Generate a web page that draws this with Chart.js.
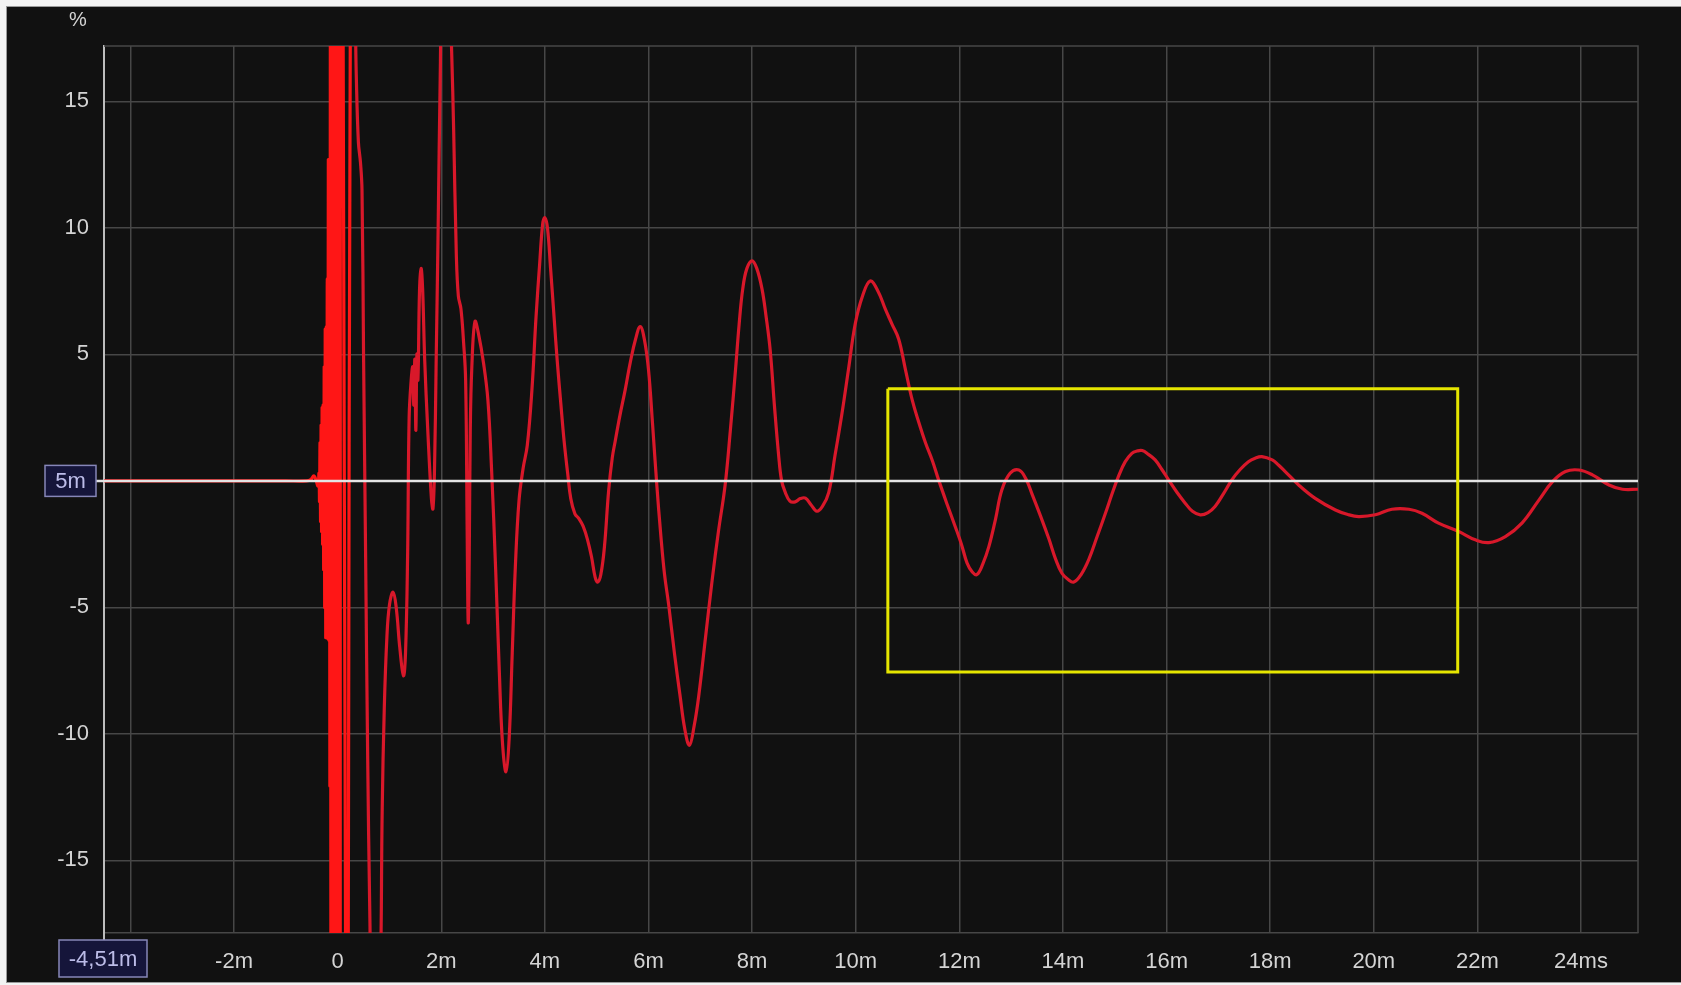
<!DOCTYPE html>
<html>
<head>
<meta charset="utf-8">
<title>Impulse response</title>
<script src="https://cdn.jsdelivr.net/npm/chart.js@4.4.1/dist/chart.umd.min.js"></script>
<style>
  html, body { margin: 0; padding: 0; background: #f3f3f3; }
  #wrap { width: 1681px; height: 985px; }
  canvas { display: block; }
</style>
</head>
<body>
<div id="wrap"><canvas id="ir" width="1681" height="985"></canvas></div>
<script>
// Time axis (ms) and measured response level (%)
const timeMs = [
  -4.51, -1.0, -0.6, -0.52, -0.46, -0.42, -0.38, -0.36,
  -0.35, -0.34, -0.33, -0.32, -0.31, -0.30, -0.29, -0.28, -0.27, -0.26, -0.25, -0.24,
  -0.23, -0.22, -0.21, -0.20, -0.19, -0.18, -0.17, -0.16, -0.15, -0.14, -0.13, -0.12,
  -0.11, -0.10, -0.09, -0.08, -0.07, -0.06, -0.05, -0.04, -0.03, -0.02, -0.01, 0.00,
  0.01, 0.02, 0.03, 0.04, 0.05, 0.06, 0.10, 0.16, 0.20, 0.25, 0.32, 0.36, 0.40, 0.44,
  0.47, 0.50, 0.54, 0.58, 0.62, 0.66, 0.74, 0.82, 0.86, 0.90, 0.95, 1.00, 1.07, 1.13,
  1.20, 1.27, 1.31, 1.35, 1.38, 1.42, 1.45, 1.47, 1.49, 1.51, 1.53, 1.55, 1.58, 1.61,
  1.64, 1.68, 1.74, 1.81, 1.84, 1.87, 1.90, 1.94, 1.98, 2.02, 2.12, 2.20, 2.24, 2.29,
  2.33, 2.38, 2.43, 2.47, 2.50, 2.52, 2.54, 2.56, 2.59, 2.65, 2.72, 2.82, 2.90, 2.97,
  3.05, 3.12, 3.18, 3.25, 3.31, 3.37, 3.43, 3.50, 3.58, 3.66, 3.75, 3.83, 3.90, 3.96,
  4.00, 4.05, 4.11, 4.18, 4.24, 4.31, 4.37, 4.44, 4.50, 4.58, 4.66, 4.74, 4.82, 4.90,
  4.97, 5.02, 5.08, 5.15, 5.23, 5.30, 5.36, 5.45, 5.55, 5.65, 5.75, 5.84, 5.92, 6.00,
  6.08, 6.16, 6.24, 6.31, 6.39, 6.50, 6.61, 6.70, 6.79, 6.88, 6.97, 7.10, 7.23, 7.35,
  7.48, 7.58, 7.68, 7.75, 7.82, 7.90, 8.00, 8.09, 8.19, 8.27, 8.35, 8.43, 8.51, 8.57,
  8.64, 8.73, 8.83, 8.93, 9.03, 9.14, 9.25, 9.36, 9.48, 9.60, 9.73, 9.86, 9.99, 10.13,
  10.28, 10.43, 10.57, 10.70, 10.83, 10.96, 11.09, 11.22, 11.35, 11.48, 11.60, 11.76,
  11.92, 12.04, 12.15, 12.25, 12.34, 12.45, 12.57, 12.70, 12.82, 12.98, 13.15, 13.28,
  13.40, 13.57, 13.73, 13.86, 13.98, 14.10, 14.21, 14.35, 14.50, 14.66, 14.82, 14.95,
  15.07, 15.20, 15.33, 15.43, 15.53, 15.65, 15.78, 15.91, 16.04, 16.20, 16.36, 16.50,
  16.65, 16.80, 16.94, 17.10, 17.26, 17.42, 17.58, 17.71, 17.84, 18.04, 18.16, 18.29,
  18.55, 18.87, 19.26, 19.50, 19.71, 20.03, 20.35, 20.68, 20.93, 21.25, 21.64, 21.96,
  22.22, 22.54, 22.86, 23.19, 23.45, 23.70, 23.96, 24.22, 24.54, 24.80, 25.10
];
const levelPct = [
  0, 0, 0, 0.05, 0.2, 0.05, -0.2, 0.3,
  -0.8, 1.5, -1.6, 2.2, -2.0, 2.9, -2.5, 3.0, -3.5, 4.5, -5.0, 6.0,
  -6.2, 6.1, -6.2, 8.0, -6.2, 12.7, -6.3, 12.6, -12, 21, -21, 21,
  -21, 21, -21, 21, -21, 21, -21, 21, -21, 21, -21, 21,
  -21, 21, -21, 21, -21, 22, 22, -24, -24, 22, 20, 16, 13.4, 12.6,
  11.5, 5, -3, -11, -17, -21, -23, -20, -13, -9, -6.2, -4.9, -4.4, -5.0,
  -6.6, -7.7, -6.8, -3, 2.5, 4.0, 4.5, 3.0, 4.8, 2.0, 5.0, 4.0, 7.5, 8.4,
  7.6, 4.8, 2.0, -0.7, -1.1, 0.5, 4.5, 10, 16, 20, 22, 17, 13.8, 9.0,
  7.3, 6.8, 5.5, 4.0, -2, -5.6, -3, 2, 4.5, 6.3, 5.8, 4.6, 3.2, 0.5,
  -3.5, -7.5, -10.3, -11.5, -10.2, -6.8, -3.4, -0.8, 0.5, 1.4, 3.6, 6.5, 8.6, 10.2,
  10.4, 10.0, 8.4, 6.4, 4.7, 3.0, 1.6, 0.3, -0.7, -1.3, -1.5, -1.8, -2.3, -3.0,
  -3.8, -4.0, -3.7, -2.6, -0.4, 0.9, 1.6, 2.6, 3.6, 4.7, 5.6, 6.1, 5.6, 4.4,
  2.2, -0.15, -2.2, -3.7, -4.9, -6.8, -8.5, -9.8, -10.45, -9.7, -8.5, -6.2, -3.9, -2.0,
  -0.15, 2.0, 4.4, 6.2, 7.6, 8.4, 8.7, 8.4, 7.6, 6.5, 5.15, 3.0, 1.06, 0.0,
  -0.45, -0.8, -0.83, -0.7, -0.68, -0.95, -1.2, -1.0, -0.45, 1.0, 2.6, 4.4, 6.2, 7.3,
  7.9, 7.5, 6.8, 6.2, 5.6, 4.4, 3.2, 2.3, 1.49, 0.8, 0.04, -0.9,
  -1.8, -2.5, -3.25, -3.6, -3.7, -3.3, -2.6, -1.5, -0.36, 0.3, 0.43, 0.1,
  -0.5, -1.4, -2.3, -3.1, -3.65, -3.9, -4.0, -3.7, -3.1, -2.2, -1.28, -0.5,
  0.17, 0.75, 1.09, 1.18, 1.2, 1.05, 0.83, 0.45, 0.04, -0.45, -0.88, -1.2,
  -1.34, -1.25, -1.0, -0.5, 0.04, 0.45, 0.76, 0.9, 0.96, 0.83, 0.63, 0.37,
  -0.16, -0.69, -1.15, -1.33, -1.41, -1.34, -1.12, -1.12, -1.28, -1.67, -2.0, -2.33,
  -2.44, -2.2, -1.67, -0.75, -0.03, 0.37, 0.43, 0.24, -0.16, -0.33, -0.33
];

// Selection window (ms and %)
const windowMs = [10.62, 21.62];
const windowPct = [-7.55, 3.64];

// Axis ranges and tick labels
const xRange = [-4.51, 25.1];
const yRange = [-17.87, 17.19];
const xTickValues = [-4, -2, 0, 2, 4, 6, 8, 10, 12, 14, 16, 18, 20, 22, 24];
const xTickLabels = ['', '-2m', '0', '2m', '4m', '6m', '8m', '10m', '12m', '14m', '16m', '18m', '20m', '22m', '24ms'];
const yTickValues = [-15, -10, -5, 0, 5, 10, 15];
const yTickLabels = ['-15', '-10', '-5', '', '5', '10', '15'];
const yUnit = '%';
const yCursorLabel = '5m';

const FONT = "'Liberation Sans', Arial, sans-serif";
const GRID = '#474747';
const TEXT = '#d4d4d4';

function tagBox(ctx, text, cx, cy, w, h) {
  ctx.save();
  ctx.fillStyle = '#15153a';
  ctx.fillRect(cx - w / 2, cy - h / 2, w, h);
  ctx.strokeStyle = '#8686b8';
  ctx.lineWidth = 1.5;
  ctx.strokeRect(cx - w / 2, cy - h / 2, w, h);
  ctx.fillStyle = '#bcbce8';
  ctx.font = '22px ' + FONT;
  ctx.textAlign = 'center';
  ctx.textBaseline = 'middle';
  ctx.fillText(text, cx, cy + 1);
  ctx.restore();
}

const framePlugin = {
  id: 'frame',
  beforeDraw(chart) {
    const { ctx, width, height } = chart;
    ctx.save();
    ctx.fillStyle = '#f3f3f3';
    ctx.fillRect(0, 0, width, height);
    ctx.fillStyle = '#111111';
    ctx.fillRect(7, 7, width - 7, height - 10);
    ctx.strokeStyle = '#9a9a9a';
    ctx.lineWidth = 1;
    ctx.strokeRect(6.5, 6.5, width, height - 9);
    ctx.restore();
  },
  beforeDatasetsDraw(chart) {
    const { ctx, chartArea: a } = chart;
    ctx.save();
    ctx.strokeStyle = GRID;
    ctx.lineWidth = 1.5;
    ctx.beginPath();
    ctx.moveTo(a.left, a.top);
    ctx.lineTo(a.right, a.top);
    ctx.lineTo(a.right, a.bottom);
    ctx.stroke();
    ctx.restore();
  },
  afterDatasetDraw(chart, args) {
    if (args.meta.label !== 'response') return;
    const { ctx, chartArea: a } = chart;
    const y0 = chart.scales.y.getPixelForValue(0);
    ctx.save();
    ctx.strokeStyle = '#e4e4e4';
    ctx.lineWidth = 2.5;
    ctx.beginPath();
    ctx.moveTo(a.left - 8, y0);
    ctx.lineTo(a.right, y0);
    ctx.stroke();
    ctx.restore();
  },
  afterDraw(chart) {
    const { ctx, chartArea: a } = chart;
    const y0 = chart.scales.y.getPixelForValue(0);
    ctx.save();
    // axis line continues down to the start-time tag
    ctx.strokeStyle = '#bdbdbd';
    ctx.lineWidth = 2;
    ctx.beginPath();
    ctx.moveTo(a.left, a.bottom);
    ctx.lineTo(a.left, a.bottom + 7);
    ctx.stroke();
    ctx.fillStyle = TEXT;
    ctx.font = '20px ' + FONT;
    ctx.textAlign = 'center';
    ctx.textBaseline = 'middle';
    ctx.fillText(yUnit, 78, 20);
    ctx.restore();
    tagBox(ctx, yCursorLabel, a.left - 33.5, y0, 51, 31);
    const startText = xRange[0].toFixed(2).replace('.', ',') + 'm';
    tagBox(ctx, startText, a.left - 1, a.bottom + 25.5, 88, 37);
  }
};

const responsePoints = timeMs.map((t, i) => ({ x: t, y: levelPct[i] }));
const windowPoints = [
  { x: windowMs[0], y: windowPct[1] },
  { x: windowMs[1], y: windowPct[1] },
  { x: windowMs[1], y: windowPct[0] },
  { x: windowMs[0], y: windowPct[0] },
  { x: windowMs[0], y: windowPct[1] }
];

new Chart(document.getElementById('ir'), {
  type: 'line',
  data: {
    datasets: [
      {
        label: 'window',
        data: windowPoints,
        borderColor: '#e6e600',
        borderWidth: 3,
        pointRadius: 0,
        tension: 0,
        fill: false,
        order: 0
      },
      {
        label: 'response',
        data: responsePoints,
        borderColor: '#d8182a',
        borderWidth: 3.2,
        pointRadius: 0,
        tension: 0.4,
        fill: false,
        clip: 0,
        order: 1,
        segment: {
          borderColor: c => (c.p0.parsed.x < 0.3 ? '#ff1616' : undefined)
        }
      }
    ]
  },
  options: {
    responsive: false,
    animation: false,
    devicePixelRatio: 1,
    layout: { padding: { top: 46, right: 43, left: 0, bottom: 0 } },
    plugins: { legend: { display: false }, tooltip: { enabled: false }, title: { display: false } },
    scales: {
      x: {
        type: 'linear',
        min: xRange[0],
        max: xRange[1],
        afterFit: s => { s.height = 52; },
        afterBuildTicks: s => { s.ticks = xTickValues.map(v => ({ value: v })); },
        grid: { color: GRID, lineWidth: 1.5, drawTicks: false },
        border: { display: true, color: GRID, width: 1.5 },
        ticks: {
          autoSkip: false,
          maxRotation: 0,
          padding: 16,
          color: TEXT,
          font: { family: FONT, size: 22 },
          callback: v => xTickLabels[xTickValues.indexOf(v)]
        }
      },
      y: {
        type: 'linear',
        min: yRange[0],
        max: yRange[1],
        afterFit: s => { s.width = 104; },
        afterBuildTicks: s => { s.ticks = yTickValues.map(v => ({ value: v })); },
        grid: { color: GRID, lineWidth: 1.5, drawTicks: false },
        border: { display: true, color: '#bdbdbd', width: 2 },
        ticks: {
          padding: 15,
          color: TEXT,
          font: { family: FONT, size: 22 },
          callback: v => yTickLabels[yTickValues.indexOf(v)]
        }
      }
    }
  },
  plugins: [framePlugin]
});
</script>
</body>
</html>
